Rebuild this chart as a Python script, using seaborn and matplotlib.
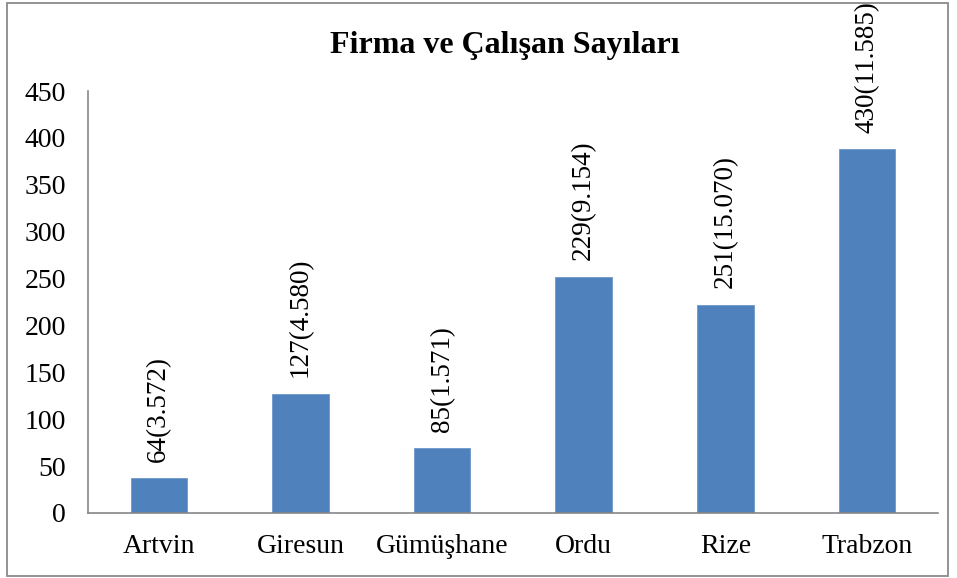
import numpy as np
import pandas as pd
import matplotlib
matplotlib.use("Agg")
import matplotlib.pyplot as plt
from matplotlib.patches import Rectangle
import seaborn as sns

# =========================
# data
# =========================
iller = ["Artvin", "Giresun", "Gümüşhane", "Ordu", "Rize", "Trabzon"]
bar_heights = [37, 127, 69, 252, 222, 388]
bar_labels = ["64(3.572)", "127(4.580)", "85(1.571)", "229(9.154)", "251(15.070)", "430(11.585)"]
y_ticks = [0, 50, 100, 150, 200, 250, 300, 350, 400, 450]

df = pd.DataFrame({"il": iller, "deger": bar_heights})

# =========================
# style
# =========================
sns.set_style("white")
plt.rcParams["font.family"] = ["Liberation Serif", "DejaVu Serif"]

fig = plt.figure(figsize=(9.57, 5.78), dpi=100)
ax = fig.add_axes([0.092, 0.1125, 0.888, 0.730])

sns.barplot(data=df, x="il", y="deger", color="#4F81BD", width=0.4,
            saturation=1, edgecolor="#6f97c9", linewidth=0.6, ax=ax)

# bar labels (rotated)
for i, p in enumerate(ax.patches):
    ax.annotate(bar_labels[i], (p.get_x() + p.get_width() / 2, p.get_height()),
                xytext=(0, 12), textcoords="offset points",
                rotation=90, ha="center", va="bottom", fontsize=19.5,
                color="black", annotation_clip=False)

ax.set_ylim(0, 450)
ax.set_yticks(y_ticks)
ax.set_xlim(-0.5, len(iller) - 0.5)
ax.set_xlabel("")
ax.set_ylabel("")
ax.tick_params(axis="y", length=0, pad=16, labelsize=20, labelcolor="black")
ax.tick_params(axis="x", length=0, pad=15, labelsize=20, labelcolor="black")

for s in ["top", "right"]:
    ax.spines[s].set_visible(False)
for s in ["left", "bottom"]:
    ax.spines[s].set_color("#868686")
    ax.spines[s].set_linewidth(1.2)

fig.text(0.528, 0.922, "Firma ve Çalışan Sayıları", ha="center", va="center",
         fontsize=23, fontweight="bold", color="black")

# outer frame
fig.patches.append(Rectangle((0.0073, 0.0035), 0.983, 0.992, transform=fig.transFigure,
                             fill=False, edgecolor="#8a8a8a", linewidth=1.3))

plt.savefig("out.png", dpi=100)
plt.close()
